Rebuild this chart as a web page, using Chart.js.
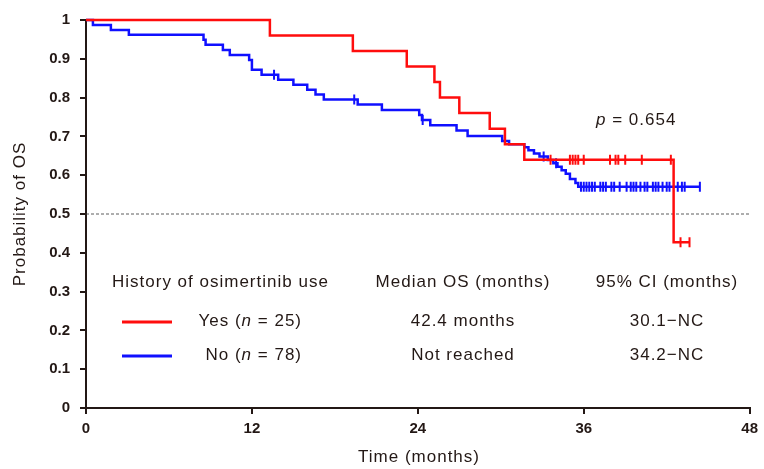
<!DOCTYPE html>
<html>
<head>
<meta charset="utf-8">
<script src="https://cdn.jsdelivr.net/npm/chart.js@4.4.1/dist/chart.umd.min.js"></script>
<style>
    html, body { margin: 0; padding: 0; background: #fff; }
    #wrap { width: 764px; height: 469px; position: relative; }
</style>
</head>
<body>
<div id="wrap"><canvas id="chart"></canvas></div>
<script>
// history of osimertinib use: Yes (n = 25)
const yesTimes = [0, 13.3, 19.3, 23.2, 25.2, 25.6, 27.0, 29.2, 30.3, 31.7, 42.5, 43.65];
const yesSurvival = [1, 0.96, 0.92, 0.88, 0.84, 0.80, 0.76, 0.72, 0.68, 0.64, 0.427, 0.427];
const yesCensored = [33.6, 35.0, 35.2, 35.4, 35.6, 36.0, 37.9, 38.3, 38.5, 39.0, 40.2, 42.3, 43.0, 43.65];

// No (n = 78)
const noTimes = [0, 0.5, 1.8, 3.1, 8.5, 8.65, 9.9, 10.4, 11.8, 12.0, 12.7, 13.9, 15.0, 16.0, 16.6, 17.2,
    19.65, 21.4, 24.1, 24.3, 24.9, 26.8, 27.6, 30.1, 30.6, 31.7, 32.0, 32.4, 32.8, 33.4, 33.8, 34.1,
    34.4, 34.7, 35.0, 35.4, 35.6, 44.4];
const noSurvival = [1, 0.987, 0.974, 0.962, 0.949, 0.936, 0.923, 0.910, 0.897, 0.872, 0.859, 0.846, 0.833, 0.820, 0.808, 0.795,
    0.782, 0.768, 0.755, 0.742, 0.729, 0.715, 0.701, 0.688, 0.680, 0.672, 0.664, 0.656, 0.648, 0.639, 0.631, 0.622,
    0.613, 0.604, 0.590, 0.580, 0.570, 0.570];
const noCensored = [13.6, 19.4, 24.35, 33.1, 34.0, 35.8, 36.0, 36.2, 36.4, 36.6, 36.8, 37.2, 37.4, 37.6, 38.0, 38.2,
    38.6, 39.1, 39.4, 39.6, 39.8, 40.1, 40.4, 40.6, 41.0, 41.2, 41.4, 41.7, 42.0, 42.2, 42.8, 43.1, 43.3, 44.4];

const medianLine = 0.5;
const xTicks = [0, 12, 24, 36, 48];

const tableHeader = ['History of osimertinib use', 'Median OS (months)', '95% CI (months)'];
const groupLabels = [['Yes (', 'n', ' = 25)'], ['No (', 'n', ' = 78)']];
const medianOS = ['42.4 months', 'Not reached'];
const confInterval = ['30.1\u2212NC', '34.2\u2212NC'];
const pValue = ['', 'p', ' = 0.654'];

const RED = '#ff0d0d',
      BLUE = '#1010ff',
      AXIS = '#231815',
      TEXT = '#231815';

const toPoints = (times, surv) => times.map((t, i) => ({ x: t, y: surv[i] }));

function survivalAt(times, surv, t) {
    let s = surv[0];
    for (let i = 0; i < times.length; i++) {
        if (times[i] <= t) s = surv[i];
    }
    return s;
}

const censorPoints = (cens, times, surv) => cens.map((t) => ({ x: t, y: survivalAt(times, surv, t) }));

const TEXT_FONT = '17px "Liberation Sans", Arial, sans-serif';

function drawParts(ctx, parts, x, y, align) {
    // odd parts are italic
    const fonts = parts.map((p, i) => (i % 2 === 1 ? 'italic ' : '') + TEXT_FONT);
    const widths = parts.map((p, i) => { ctx.font = fonts[i]; return ctx.measureText(p).width; });
    const total = widths.reduce((a, b) => a + b, 0);
    let cx = align === 'right' ? x - total : align === 'center' ? x - total / 2 : x;
    ctx.textAlign = 'left';
    parts.forEach((p, i) => {
        ctx.font = fonts[i];
        ctx.fillText(p, cx, y);
        cx += widths[i];
    });
}

const textPlugin = {
    id: 'textPlugin',
    afterDraw(chart) {
        const { ctx } = chart;
        ctx.save();
        ctx.fillStyle = TEXT;
        ctx.textBaseline = 'middle';
        ctx.letterSpacing = '1px';

        // axis titles
        ctx.font = TEXT_FONT;
        ctx.textAlign = 'center';
        ctx.fillText('Time (months)', 419, 457);
        ctx.save();
        ctx.translate(20, 214);
        ctx.rotate(-Math.PI / 2);
        ctx.fillText('Probability of OS', 0, 0);
        ctx.restore();

        drawParts(ctx, pValue, 596, 120, 'left');

        // table under the curves
        ctx.font = TEXT_FONT;
        ctx.textAlign = 'left';
        ctx.fillText(tableHeader[0], 112, 282);
        ctx.textAlign = 'center';
        ctx.fillText(tableHeader[1], 463, 282);
        ctx.fillText(tableHeader[2], 667, 282);

        const rowY = [321, 355];
        const colours = [RED, BLUE];
        rowY.forEach((y, i) => {
            ctx.save();
            ctx.strokeStyle = colours[i];
            ctx.lineWidth = 3;
            ctx.beginPath();
            ctx.moveTo(122, y + 1);
            ctx.lineTo(172, y + 1);
            ctx.stroke();
            ctx.restore();
            drawParts(ctx, groupLabels[i], 302, y, 'right');
            ctx.font = TEXT_FONT;
            ctx.textAlign = 'center';
            ctx.fillText(medianOS[i], 463, y);
            ctx.fillText(confInterval[i], 667, y);
        });
        ctx.restore();
    },
};

const tickFont = { family: '"Liberation Sans", Arial, sans-serif', size: 15, weight: 'bold' };

new Chart(document.getElementById('chart'), {
    type: 'line',
    data: {
        datasets: [
            {
                label: 'Yes',
                data: toPoints(yesTimes, yesSurvival),
                borderColor: RED,
                borderWidth: 2.5,
                stepped: 'before',
                pointRadius: 0,
                fill: false,
                clip: 5,
            },
            {
                label: 'Yes censored',
                type: 'scatter',
                data: censorPoints(yesCensored, yesTimes, yesSurvival),
                borderColor: RED,
                backgroundColor: RED,
                pointStyle: 'line',
                rotation: 90,
                pointRadius: 5,
                pointBorderWidth: 2,
                showLine: false,
                clip: 5,
            },
            {
                label: 'No',
                data: toPoints(noTimes, noSurvival),
                borderColor: BLUE,
                borderWidth: 2.5,
                stepped: 'before',
                pointRadius: 0,
                fill: false,
                clip: 5,
            },
            {
                label: 'No censored',
                type: 'scatter',
                data: censorPoints(noCensored, noTimes, noSurvival),
                borderColor: BLUE,
                backgroundColor: BLUE,
                pointStyle: 'line',
                rotation: 90,
                pointRadius: 5,
                pointBorderWidth: 2,
                showLine: false,
                clip: 5,
            },
            {
                label: 'median',
                data: [{ x: 0, y: medianLine }, { x: 48, y: medianLine }],
                borderColor: '#333333',
                borderWidth: 0.8,
                borderDash: [3, 2],
                pointRadius: 0,
                fill: false,
            },
        ],
    },
    options: {
        responsive: true,
        maintainAspectRatio: false,
        animation: false,
        devicePixelRatio: 1,
        layout: { padding: { left: 0, right: 12, top: 20, bottom: 0 } },
        plugins: {
            legend: { display: false },
            tooltip: { enabled: false },
        },
        scales: {
            x: {
                type: 'linear',
                min: 0,
                max: 48,
                afterBuildTicks: (scale) => { scale.ticks = xTicks.map((v) => ({ value: v })); },
                afterFit: (scale) => { scale.height = 61; },
                ticks: { color: TEXT, font: tickFont, padding: 6, maxRotation: 0 },
                grid: { drawOnChartArea: false, drawTicks: true, tickLength: 6, color: AXIS, lineWidth: 2 },
                border: { color: AXIS, width: 2 },
            },
            y: {
                min: 0,
                max: 1,
                afterFit: (scale) => { scale.width = 86; },
                ticks: {
                    stepSize: 0.1,
                    color: TEXT,
                    font: tickFont,
                    padding: 10,
                    callback: (v) => String(Number(v.toFixed(1))),
                },
                grid: { drawOnChartArea: false, drawTicks: true, tickLength: 6, color: AXIS, lineWidth: 2 },
                border: { color: AXIS, width: 2 },
            },
        },
    },
    plugins: [textPlugin],
});
</script>
</body>
</html>
